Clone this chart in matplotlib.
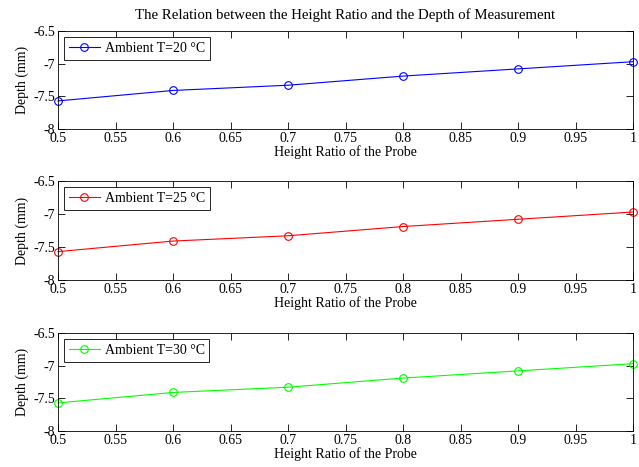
import matplotlib
matplotlib.use("Agg")
import matplotlib.pyplot as plt

ratio = [0.5, 0.6, 0.7, 0.8, 0.9, 1.0]
depth_20 = [-7.57, -7.41, -7.33, -7.19, -7.08, -6.97]
depth_25 = [-7.57, -7.41, -7.33, -7.19, -7.08, -6.97]
depth_30 = [-7.57, -7.41, -7.33, -7.19, -7.08, -6.97]
labels = ["Ambient T=20 °C", "Ambient T=25 °C", "Ambient T=30 °C"]
colors = ["#0000ff", "#ff0000", "#00ff00"]
xticks = [0.5, 0.55, 0.6, 0.65, 0.7, 0.75, 0.8, 0.85, 0.9, 0.95, 1]
yticks = [-8, -7.5, -7, -6.5]

plt.rcParams["font.family"] = ["Liberation Serif", "DejaVu Serif"]
plt.rcParams["font.size"] = 10

fig = plt.figure(figsize=(6.39, 4.67), dpi=100)
W, H = 639, 467
# axes boxes in pixels: left, top, right, bottom
boxes = [(58, 31, 633, 129), (58, 181, 633, 280), (58, 333, 633, 431)]

for i, (series, lab, col) in enumerate(zip([depth_20, depth_25, depth_30], labels, colors)):
    l, t, r, b = boxes[i]
    ax = fig.add_axes([l / W, 1 - b / H, (r - l) / W, (b - t) / H])
    ax.plot(ratio, series, color=col, lw=0.8, marker="o", ms=5.5,
            mfc="none", mec=col, mew=0.8, label=lab, clip_on=False)
    ax.set_xlim(0.5, 1)
    ax.set_ylim(-8, -6.5)
    ax.set_xticks(xticks)
    ax.set_xticklabels([f"{v:g}" for v in xticks])
    ax.set_yticks(yticks)
    ax.set_yticklabels([f"{v:g}" for v in yticks])
    ax.tick_params(direction="in", top=True, right=True, length=5, width=0.6, pad=2)
    for s in ax.spines.values():
        s.set_linewidth(0.6)
    ax.set_xlabel("Height Ratio of the Probe", labelpad=0)
    ax.set_ylabel("Depth (mm)", labelpad=3)
    leg = ax.legend(loc="upper left", fancybox=False, framealpha=1,
                    edgecolor="black", borderaxespad=0.45, handlelength=2.2,
                    handletextpad=0.35, borderpad=0.35, handleheight=0.6)
    leg.get_frame().set_linewidth(0.6)
    if i == 0:
        ax.set_title("The Relation between the Height Ratio and the Depth of Measurement",
                     fontsize=10.7, pad=9)

fig.savefig("out.png", dpi=100)
